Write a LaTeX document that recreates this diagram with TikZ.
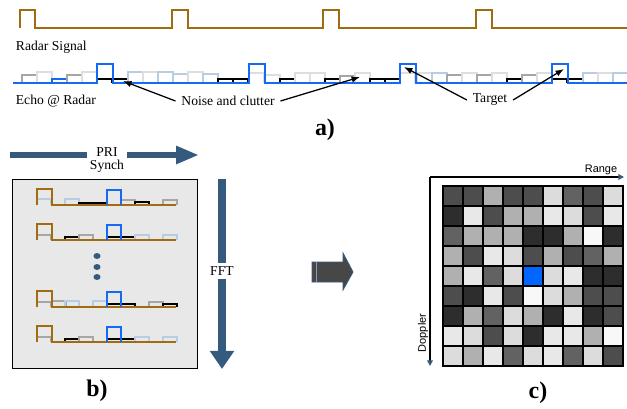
\documentclass[tikz,border=0pt]{standalone}
\usepackage{fontspec}
\setmainfont{Liberation Serif}
\newfontfamily\axisfont{Liberation Sans}
\usetikzlibrary{arrows.meta,positioning}
\definecolor{radarbrown}{HTML}{A06C12}
\definecolor{echoblue}{HTML}{1469F5}
\definecolor{clutterblue}{HTML}{B8CCE4}
\definecolor{flowblue}{HTML}{345A7E}
\definecolor{panelgray}{HTML}{E8E8E8}
\definecolor{cell1}{HTML}{2D2D2D}
\definecolor{cell2}{HTML}{4D4D4D}
\definecolor{cell3}{HTML}{626262}
\definecolor{cell4}{HTML}{B0B0B0}
\definecolor{cell5}{HTML}{DCDCDC}
\definecolor{cell6}{HTML}{E8E8E8}
\definecolor{cell7}{HTML}{F8F8F8}
\definecolor{cell8}{HTML}{0066FF}

\begin{document}
\begin{tikzpicture}[
  x=0.025cm, y=-0.025cm,
  >=Latex,
  font=\fontsize{9.7}{11}\selectfont,
  radarline/.style={draw=radarbrown, line width=1.3pt},
  echoline/.style={draw=echoblue, line width=1.3pt},
  rowbrown/.style={draw=radarbrown, line width=1pt},
  rowblue/.style={draw=echoblue, line width=1pt},
  nlg/.style={draw=black!13, line width=0.9pt},
  ngy/.style={draw=black!35, line width=0.9pt},
  nlb/.style={draw=clutterblue, line width=0.9pt},
  nbk/.style={draw=black, line width=0.9pt},
  nbl/.style={draw=echoblue, line width=0.9pt},
  lbl/.style={inner sep=4pt},
  pointer/.style={-{Latex[length=6pt, width=4.5pt]}, line width=0.9pt},
  flowbar/.style={draw=flowblue, line width=0.15cm},
  flowarrow/.style={draw=flowblue, line width=0.15cm, -{Triangle[length=0.57cm, width=0.42cm]}},
  fftbar/.style={draw=flowblue, line width=0.22cm},
  fftarrow/.style={draw=flowblue, line width=0.22cm, -{Triangle[length=0.45cm, width=0.58cm]}},
  rawbox/.style={draw=black, fill=panelgray, line width=0.6pt},
  bigarrow/.style={draw=flowblue, fill=black!72, line width=0.6pt},
  axisline/.style={line width=0.9pt, -{Triangle[length=4pt, width=4pt, color=flowblue]}},
  axislbl/.style={font=\axisfont\fontsize{7.8}{9}\selectfont, inner sep=1pt},
  cell/.style={draw=black, line width=0.9pt},
  tag/.style={font=\fontsize{17}{20}\selectfont\bfseries}
]
\useasboundingbox (0,0) rectangle (627,409);

% a) radar signal and echo
\draw[radarline] (20,28) -- (20,10) -- (35,10) -- (35,28) -- (172,28) -- (172,10) -- (188,10) -- (188,28)
  -- (323,28) -- (323,10) -- (339,10) -- (339,28) -- (476,28) -- (476,10) -- (492,10) -- (492,28) -- (627,28);
\node[lbl, anchor=west] (radarlbl) at (10,47) {Radar Signal};

\foreach \x/\h/\s in {22/8/ngy, 37/11/nlg, 52/4/nbl, 67/8/ngy, 82/11/nlg, 97/4/nbk, 113/4/nbk, 128/11/nlb,
  143/11/nlg, 158/11/nlb, 173/9/nlb, 188/11/nlg, 203/9/nlb, 218/4/nbk, 233/4/nbk, 249/10/nlg, 265/8/nlg,
  280/4/nbk, 295/10/nlg, 310/10/nlg, 325/4/nbk, 340/7/ngy, 355/10/nlg, 370/4/nbk, 385/4/nbk, 400/10/nlg,
  417/10/nlg, 432/10/nlb, 447/8/ngy, 462/10/nlg, 477/8/ngy, 492/10/nlg, 507/4/nbk, 522/8/ngy, 537/10/nlg,
  552/4/nbk, 568/4/nbk, 583/10/nlb, 598/10/nlg, 613/10/nlb}
  \draw[\s] (\x,83) -- (\x,83-\h) -- (\x+15,83-\h) -- (\x+15,83);
\draw[echoline] (13,83) -- (97,83) -- (97,64) -- (113,64) -- (113,83) -- (249,83) -- (249,64) -- (265,64) -- (265,83)
  -- (400,83) -- (400,64) -- (416,64) -- (416,83) -- (552,83) -- (552,64) -- (568,64) -- (568,83) -- (627,83);
\node[lbl, anchor=west] (echolbl) at (10,101) {Echo @ Radar};

\node[lbl] (noiselbl) at (228,101) {Noise and clutter};
\node[lbl] (targetlbl) at (490,100) {Target};
\coordinate (noisea) at (123,81);
\coordinate (noiseb) at (360,77);
\coordinate (targeta) at (404,67);
\coordinate (targetb) at (564,69);
\draw[pointer] (noiselbl.west) -- (noisea);
\draw[pointer] (noiselbl.east) -- (noiseb);
\draw[pointer] (targetlbl.west) -- (targeta);
\draw[pointer] (targetlbl.east) -- (targetb);
\node[tag] (taga) at (325,130) {a)};

% b) pulses stacked per PRI
\node[align=center, inner sep=2pt] (pri) at (107,160) {PRI\\[-2pt]Synch};
\coordinate (prileft) at (10,155);
\coordinate (priright) at (199,155);
\draw[flowbar] (prileft) -- (prileft -| pri.west);
\draw[flowarrow] (priright -| pri.east) -- (priright);

\draw[rawbox] (12,179) rectangle (197,368);
\foreach \x/\y/\h/\s in {37/205/6/nlb, 65/205/6/nlb, 79/205/2/nbk, 93/205/2/nbk, 121/205/5/ngy, 135/205/3/nbk, 163/205/5/ngy,
  37/240/5/ngy, 65/240/3/nbk, 79/240/5/ngy, 107/240/3/nbk, 121/240/3/nbk, 135/240/5/nlb, 163/240/5/nlb,
  37/307/5/ngy, 52/307/6/ngy, 65/307/6/nlb, 93/307/6/nlb, 107/307/3/nbk, 121/307/3/nbk, 149/307/5/ngy, 163/307/3/nbk,
  37/342/5/ngy, 65/342/3/nbk, 79/342/5/ngy, 107/342/3/nbk, 121/342/3/nbk, 135/342/5/nlb, 163/342/5/nlb}
  \draw[\s, line width=0.8pt] (\x,\y) -- (\x,\y-\h) -- (\x+14,\y-\h) -- (\x+14,\y);
\foreach \y in {205,240,307,342} {
  \draw[rowbrown] (37,\y) -- (37,\y-16) -- (52,\y-16) -- (52,\y) -- (176,\y);
  \draw[rowblue] (107,\y) -- (107,\y-15) -- (121,\y-15) -- (121,\y);
}
\foreach \y in {256,267,277}
  \fill[flowblue] (97,\y) ellipse [x radius=3.5, y radius=3];

\node[inner sep=2pt] (fft) at (222,271) {FFT};
\coordinate (ffttop) at (222,179);
\coordinate (fftbottom) at (222,369);
\draw[fftbar] (ffttop) -- (fft.north);
\draw[fftarrow] (fft.south) -- (fftbottom);
\node[tag] (tagb) at (97,391) {b)};

\draw[bigarrow] (312,262) -- (343,262) -- (343,253) -- (353,272) -- (343,290) -- (343,282) -- (312,282) -- cycle;
\draw[draw=flowblue!60, line width=0.6pt] (316,262) -- (316,282);

% c) range-doppler map
\foreach \row [count=\r from 0] in {{2,2,4,2,2,5,3,2,5},{1,6,2,4,4,6,5,2,6},{3,4,4,4,1,1,4,7,1},
  {4,2,6,5,2,4,2,3,4},{4,6,3,5,8,5,6,1,1},{2,1,6,2,7,5,4,2,2},{1,4,3,5,4,1,6,1,2},
  {6,5,2,5,1,6,6,4,7},{5,4,6,3,5,6,3,5,2}}
  \foreach \v [count=\c from 0] in \row
    \draw[cell, fill=cell\v] (443+20*\c,186+20*\r) rectangle ++(20,20);
\coordinate (origin) at (430,177);
\coordinate (rangeend) at (624,177);
\coordinate (dopplerend) at (430,366);
\draw[axisline] (origin) -- (rangeend);
\draw[axisline] (origin) -- (dopplerend);
\node[axislbl] (rangelbl) at (601,170) {Range};
\node[axislbl, rotate=90] (dopplerlbl) at (423,333) {Doppler};
\node[tag] (tagc) at (538,393) {c)};
\end{tikzpicture}
\end{document}
